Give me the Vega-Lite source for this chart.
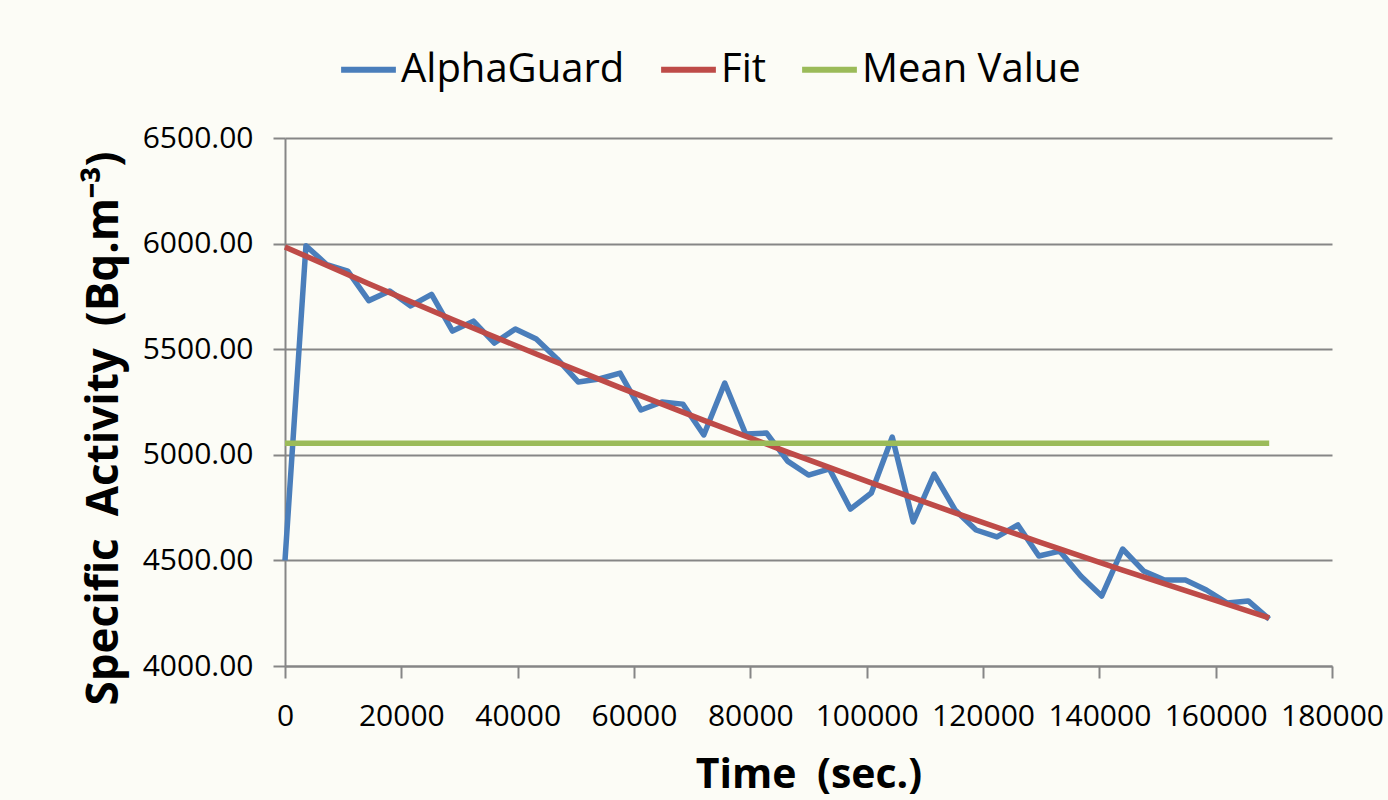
{
  "$schema": "https://vega.github.io/schema/vega-lite/v6.json",
  "width": 1047,
  "height": 528,
  "autosize": {"type": "none"},
  "padding": {"left": 285, "top": 138, "right": 56, "bottom": 134},
  "background": "#fcfcf6",
  "config": {
    "font": "Open Sans",
    "view": {"stroke": null},
    "axis": {"labelFont": "Open Sans", "titleFont": "Open Sans"}
  },
  "datasets": {
    "series": [
      {"t": 0, "v": 4500, "s": "AlphaGuard"},
      {"t": 3600, "v": 5990, "s": "AlphaGuard"},
      {"t": 7200, "v": 5900, "s": "AlphaGuard"},
      {"t": 10800, "v": 5870, "s": "AlphaGuard"},
      {"t": 14400, "v": 5730, "s": "AlphaGuard"},
      {"t": 18000, "v": 5775, "s": "AlphaGuard"},
      {"t": 21600, "v": 5705, "s": "AlphaGuard"},
      {"t": 25200, "v": 5760, "s": "AlphaGuard"},
      {"t": 28800, "v": 5586, "s": "AlphaGuard"},
      {"t": 32400, "v": 5633, "s": "AlphaGuard"},
      {"t": 36000, "v": 5529, "s": "AlphaGuard"},
      {"t": 39600, "v": 5596, "s": "AlphaGuard"},
      {"t": 43200, "v": 5548, "s": "AlphaGuard"},
      {"t": 46800, "v": 5454, "s": "AlphaGuard"},
      {"t": 50400, "v": 5345, "s": "AlphaGuard"},
      {"t": 54000, "v": 5359, "s": "AlphaGuard"},
      {"t": 57600, "v": 5387, "s": "AlphaGuard"},
      {"t": 61200, "v": 5212, "s": "AlphaGuard"},
      {"t": 64800, "v": 5250, "s": "AlphaGuard"},
      {"t": 68400, "v": 5240, "s": "AlphaGuard"},
      {"t": 72000, "v": 5094, "s": "AlphaGuard"},
      {"t": 75600, "v": 5340, "s": "AlphaGuard"},
      {"t": 79200, "v": 5098, "s": "AlphaGuard"},
      {"t": 82800, "v": 5103, "s": "AlphaGuard"},
      {"t": 86400, "v": 4970, "s": "AlphaGuard"},
      {"t": 90000, "v": 4904, "s": "AlphaGuard"},
      {"t": 93600, "v": 4933, "s": "AlphaGuard"},
      {"t": 97200, "v": 4743, "s": "AlphaGuard"},
      {"t": 100800, "v": 4819, "s": "AlphaGuard"},
      {"t": 104400, "v": 5084, "s": "AlphaGuard"},
      {"t": 108000, "v": 4682, "s": "AlphaGuard"},
      {"t": 111600, "v": 4909, "s": "AlphaGuard"},
      {"t": 115200, "v": 4739, "s": "AlphaGuard"},
      {"t": 118800, "v": 4644, "s": "AlphaGuard"},
      {"t": 122400, "v": 4611, "s": "AlphaGuard"},
      {"t": 126000, "v": 4668, "s": "AlphaGuard"},
      {"t": 129600, "v": 4521, "s": "AlphaGuard"},
      {"t": 133200, "v": 4544, "s": "AlphaGuard"},
      {"t": 136800, "v": 4426, "s": "AlphaGuard"},
      {"t": 140400, "v": 4331, "s": "AlphaGuard"},
      {"t": 144000, "v": 4554, "s": "AlphaGuard"},
      {"t": 147600, "v": 4450, "s": "AlphaGuard"},
      {"t": 151200, "v": 4407, "s": "AlphaGuard"},
      {"t": 154800, "v": 4407, "s": "AlphaGuard"},
      {"t": 158400, "v": 4360, "s": "AlphaGuard"},
      {"t": 162000, "v": 4298, "s": "AlphaGuard"},
      {"t": 165600, "v": 4308, "s": "AlphaGuard"},
      {"t": 169200, "v": 4222, "s": "AlphaGuard"},
      {"t": 0, "v": 5984, "s": "Fit"},
      {"t": 14400, "v": 5810, "s": "Fit"},
      {"t": 28800, "v": 5641, "s": "Fit"},
      {"t": 43200, "v": 5477, "s": "Fit"},
      {"t": 57600, "v": 5318, "s": "Fit"},
      {"t": 72000, "v": 5163, "s": "Fit"},
      {"t": 86400, "v": 5013, "s": "Fit"},
      {"t": 100800, "v": 4867, "s": "Fit"},
      {"t": 115200, "v": 4725, "s": "Fit"},
      {"t": 129600, "v": 4588, "s": "Fit"},
      {"t": 144000, "v": 4454, "s": "Fit"},
      {"t": 158400, "v": 4325, "s": "Fit"},
      {"t": 169200, "v": 4228, "s": "Fit"},
      {"t": 0, "v": 5055, "s": "Mean Value"},
      {"t": 169200, "v": 5055, "s": "Mean Value"}
    ]
  },
  "data": {"name": "series"},
  "encoding": {
    "x": {
      "field": "t", "type": "quantitative",
      "scale": {"domain": [0, 180000], "nice": false},
      "axis": {
        "title": "Time\u2002(sec.)",
        "values": [0, 20000, 40000, 60000, 80000, 100000, 120000, 140000, 160000, 180000],
        "format": "d",
        "grid": false,
        "domainColor": "#868686", "domainWidth": 2,
        "tickColor": "#868686", "tickWidth": 2, "tickSize": 12,
        "labelFontSize": 30, "labelColor": "#000000", "labelPadding": 23,
        "labelFlush": false, "labelOverlap": false,
        "titleFontSize": 41, "titleFontWeight": "bold", "titleColor": "#000000",
        "titlePadding": 24
      }
    },
    "y": {
      "field": "v", "type": "quantitative",
      "scale": {"domain": [4000, 6500], "nice": false, "zero": false},
      "axis": {
        "title": "Specific\u2002Activity\u2002(Bq.m⁻³)",
        "values": [4000, 4500, 5000, 5500, 6000, 6500],
        "format": ".2f",
        "grid": true, "gridColor": "#868686", "gridWidth": 2,
        "domainColor": "#868686", "domainWidth": 2,
        "tickColor": "#868686", "tickWidth": 2, "tickSize": 12,
        "labelFontSize": 30, "labelColor": "#000000", "labelPadding": 20,
        "labelFlush": false, "labelOverlap": false,
        "titleFontSize": 44, "titleFontWeight": "bold", "titleColor": "#000000",
        "titlePadding": 16,
        "titleY": 290
      }
    },
    "color": {
      "field": "s", "type": "nominal",
      "scale": {"domain": ["AlphaGuard", "Fit", "Mean Value"], "range": ["#4a7ebb", "#be4b48", "#9bbb59"]},
      "legend": {
        "title": null,
        "orient": "none",
        "direction": "horizontal",
        "legendX": 53,
        "legendY": -99,
        "symbolType": "stroke",
        "symbolSize": 3000,
        "symbolStrokeWidth": 6,
        "labelFontSize": 40,
        "labelFont": "Open Sans",
        "labelColor": "#000000",
        "labelOffset": 2,
        "columnPadding": 24,
        "labelLimit": 400
      }
    }
  },
  "layer": [
    {"transform": [{"filter": "datum.s === 'AlphaGuard'"}], "mark": {"type": "line", "strokeWidth": 5.5, "strokeJoin": "round"}},
    {"transform": [{"filter": "datum.s === 'Fit'"}], "mark": {"type": "line", "strokeWidth": 5.5, "strokeJoin": "round"}},
    {"transform": [{"filter": "datum.s === 'Mean Value'"}], "mark": {"type": "line", "strokeWidth": 5.5, "strokeJoin": "round"}}
  ]
}
